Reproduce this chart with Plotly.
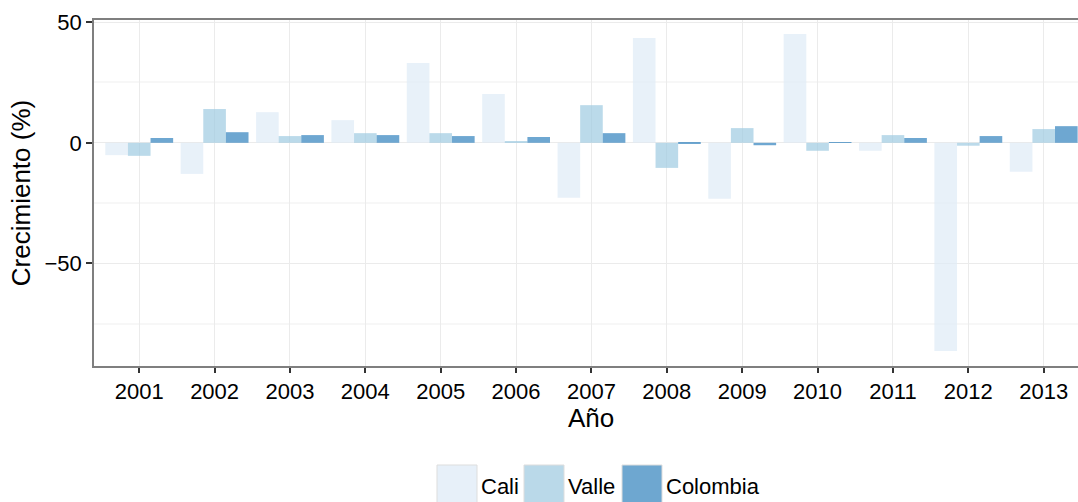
import plotly.graph_objects as go

years = [str(y) for y in range(2001, 2014)]
cali = [-5.1, -12.9, 12.7, 9.4, 33.1, 20.2, -22.8, 43.4, -23.2, 45.1, -3.3, -86.3, -12.0]
valle = [-5.4, 14.0, 2.8, 4.0, 4.0, 0.7, 15.6, -10.4, 6.1, -3.3, 3.2, -1.2, 5.7]
colombia = [2.0, 4.4, 3.2, 3.2, 2.8, 2.4, 4.0, -0.4, -1.0, 0.3, 2.0, 2.8, 6.9]

series_names = ["Cali", "Valle", "Colombia"]
series_values = [cali, valle, colombia]
colors = ["#deebf7", "#9ecae1", "#3182bd"]

FONT = "Liberation Sans, Arial, Helvetica, sans-serif"

fig = go.Figure()
for name, vals, col in zip(series_names, series_values, colors):
    fig.add_trace(go.Bar(x=years, y=vals, name=name, marker=dict(color=col, opacity=0.7, line=dict(width=0)),
                         showlegend=False))

W, H = 1078, 502
ml, mr, mt, mb = 94, 0, 20, 136
pw = W - ml - mr
ph = H - mt - mb

fig.update_layout(
    width=W, height=H,
    margin=dict(l=ml, r=mr, t=mt, b=mb, pad=0),
    paper_bgcolor="white", plot_bgcolor="white",
    barmode="group", bargap=0.1, bargroupgap=0,
    font=dict(family=FONT, color="black", size=22),
    showlegend=False,
)

fig.update_xaxes(
    type="category", range=[-0.6, 12.455],
    showgrid=True, gridcolor="#ebebeb", gridwidth=1,
    showline=True, linecolor="#7f7f7f", linewidth=1.5, mirror=True,
    ticks="outside", ticklen=5, tickwidth=2, tickcolor="#333333",
    tickfont=dict(size=22, color="black"),
)
fig.update_yaxes(
    range=[-92.5, 50.9], tickvals=[-50, 0, 50], ticktext=["\u221250", "0", "50"],
    showgrid=True, gridcolor="#ebebeb", gridwidth=1, zeroline=False,
    minor=dict(tickvals=[-75, -25, 25], showgrid=True, gridcolor="#f7f7f7", gridwidth=2, ticks=""),
    showline=True, linecolor="#7f7f7f", linewidth=1.5,
    ticks="outside", ticklen=6, tickwidth=2, tickcolor="#333333",
    tickfont=dict(size=22, color="black"),
    title=dict(text="Crecimiento (%)", font=dict(size=26, color="black"), standoff=6),
)

def px2x(px):
    return (px - ml) / pw

def py2y(py):
    return (H - mb - py) / ph

# x-axis title (centred on the full panel, which runs past the window edge)
fig.add_annotation(xref="paper", yref="paper", x=px2x(591), y=py2y(418),
                   xanchor="center", yanchor="middle", showarrow=False,
                   text="Año", font=dict(size=26, color="black", family=FONT))

# custom legend (large ggplot-style keys)
key_left = [437, 524, 622]
key_w = 40
for name, col, kx in zip(series_names, colors, key_left):
    fig.add_shape(type="rect", xref="paper", yref="paper",
                  x0=px2x(kx), x1=px2x(kx + key_w), y0=py2y(465), y1=py2y(520),
                  fillcolor=col, opacity=0.7, line=dict(color="#cfcfcf", width=1), layer="above")
    fig.add_annotation(xref="paper", yref="paper", x=px2x(kx + key_w + 2), y=py2y(486),
                       xanchor="left", yanchor="middle", showarrow=False,
                       text=name, font=dict(size=22, color="black", family=FONT))

fig.write_html("out.html", config={"displayModeBar": False},
               post_script="document.body.style.margin='0';document.body.style.overflow='hidden';")
